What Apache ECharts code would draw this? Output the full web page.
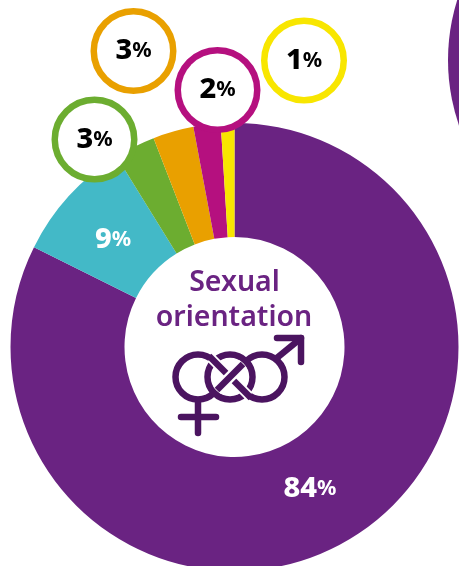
<!DOCTYPE html>
<html><head><meta charset="utf-8">
<style>html,body{margin:0;padding:0;background:#fff}#c{width:459px;height:566px}</style>
<script src="https://cdn.jsdelivr.net/npm/echarts@6/dist/echarts.min.js"></script>
</head><body><div id="c"></div>
<script>
const categories = ['Heterosexual','Gay or lesbian','Bisexual','Other','Prefer not to say','Not sure'];
const values = [84,9,3,3,2,1];
const colors = ['#6A2382','#43B9C7','#6CAD30','#E9A000','#B5107F','#F8E600'];
const labelPos = [[310,489],[113,240],[94.5,139.5],[133.5,51],[217.5,90],[304,60.5]];
const callout = [false,false,true,true,true,true];
const NUM = 'Noto Sans';
const chart = echarts.init(document.getElementById('c'),null,{renderer:'canvas'});
const P='#4B1460';
const ring=(cx,cy,r,fill)=>({type:'circle',z:10,shape:{cx,cy,r},style:{fill:fill||'none',stroke:P,lineWidth:6.5}});
const line=(x1,y1,x2,y2,c,w,cap)=>({type:'line',z:10,shape:{x1,y1,x2,y2},style:{stroke:c||P,lineWidth:w||6.5,lineCap:cap||'round'}});
const rich=(c)=>({n:{fontFamily:NUM,fontWeight:800,fontSize:29,color:c,align:'center'},p:{fontFamily:NUM,fontWeight:700,fontSize:21.5,color:c,align:'center'}});
chart.setOption({
  animation:false,
  backgroundColor:'#fff',
  series:[{
    type:'pie',center:[234.5,347],radius:[110,224],startAngle:90,clockwise:true,silent:true,
    avoidLabelOverlap:false,
    data:categories.map((name,i)=>({name,value:values[i],
      itemStyle:{color:colors[i]},
      label: callout[i] ? {
        show:true,position:'outside',
        formatter:'{n|'+values[i]+'}{p|%}',
        width:73,height:73,borderRadius:43,borderWidth:6.5,borderColor:colors[i],backgroundColor:'#fff',
        align:'center',verticalAlign:'middle',lineHeight:73,
        rich:rich('#000')
      } : {
        show:true,position:'inside',
        formatter:'{n|'+values[i]+'}{p|%}',
        rich:rich('#fff')
      },
      labelLine:{show:false}
    })),
    labelLayout:(p)=>({x:labelPos[p.dataIndex][0],y:labelPos[p.dataIndex][1],align:'center',verticalAlign:'middle'})
  }],
  graphic:[
    {type:'circle',z:1,shape:{cx:648,cy:60,r:200},style:{fill:'#6A2382'}},
    {type:'text',z:10,style:{x:234.5,y:283,text:'Sexual',align:'center',verticalAlign:'middle',font:'600 28.5px "Noto Sans"',fill:'#6A2382'}},
    {type:'text',z:10,style:{x:234,y:318,text:'orientation',align:'center',verticalAlign:'middle',font:'600 28.5px "Noto Sans"',fill:'#6A2382'}},
    ring(198,377,22.5),ring(262,377,22.5),ring(230,377,22.5,'#fff'),
    line(198,400,198,433),line(181,417,216,417),
    line(278,357,300,339),line(277,338,301,338),line(301,338,301,362),
    line(211,358,249,396,'#fff',10,'butt'),line(209,356,251,398,P,6.5,'butt'),
    line(217,390,243,364,'#fff',11,'butt'),line(217,390,243,364,P,6.5,'butt')
  ]
});
</script></body></html>
